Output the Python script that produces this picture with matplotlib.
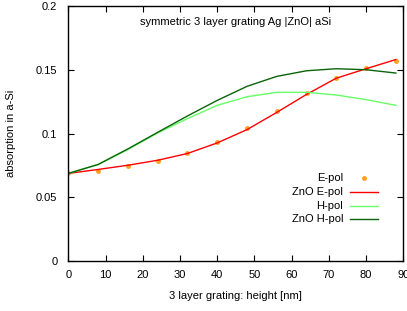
import matplotlib
matplotlib.use("Agg")
import matplotlib.pyplot as plt

plt.rcParams["font.family"] = ["Liberation Sans", "DejaVu Sans"]
plt.rcParams["font.size"] = 8

height_nm = [0, 8, 16, 24, 32, 40, 48, 56, 64, 72, 80, 88]
e_pol = [0.0688, 0.0708, 0.0747, 0.0786, 0.0846, 0.0932, 0.1047, 0.1177, 0.1317, 0.1434, 0.1510, 0.1565]
zno_e_pol = [0.0688, 0.0719, 0.0752, 0.0791, 0.0844, 0.0927, 0.1031, 0.1166, 0.1307, 0.1434, 0.1508, 0.1580]
h_pol = [0.0688, 0.0758, 0.0875, 0.1005, 0.1117, 0.1221, 0.1289, 0.1323, 0.1323, 0.1302, 0.1266, 0.1221]
zno_h_pol = [0.0688, 0.0758, 0.0880, 0.1010, 0.1138, 0.1260, 0.1370, 0.1448, 0.1492, 0.1508, 0.1500, 0.1474]

x_ticks = [0, 10, 20, 30, 40, 50, 60, 70, 80, 90]
y_ticks = [0, 0.05, 0.1, 0.15, 0.2]
y_tick_labels = ["0", "0.05", "0.1", "0.15", "0.2"]

fig = plt.figure(figsize=(4.07, 3.11), dpi=100)
ax = fig.add_axes([0.168, 0.160, 0.823, 0.821])

ax.plot(height_nm, e_pol, "o", color="#ffa020", markersize=2.5, label="E-pol")
ax.plot(height_nm, zno_e_pol, "-", color="#ff0000", linewidth=1.0, label="ZnO E-pol")
ax.plot(height_nm, h_pol, "-", color="#66ff66", linewidth=1.0, label="H-pol")
ax.plot(height_nm, zno_h_pol, "-", color="#0a640a", linewidth=1.0, label="ZnO H-pol")

ax.set_xlim(0, 90)
ax.set_ylim(0, 0.2)
ax.set_xticks(x_ticks)
ax.set_yticks(y_ticks)
ax.set_yticklabels(y_tick_labels)
ax.tick_params(direction="in", top=True, right=True, length=4, width=0.8, labelsize=8)
ax.tick_params(axis="y", pad=8)
ax.tick_params(axis="x", pad=6)
for sp in ax.spines.values():
    sp.set_linewidth(1.0)

ax.set_xlabel("3 layer grating: height [nm]", fontsize=8, labelpad=8)
ax.set_ylabel("absorption in a-Si", fontsize=8, labelpad=14)
ax.text(0.5, 0.937, "symmetric 3 layer grating Ag |ZnO| aSi", transform=ax.transAxes,
        ha="center", va="center", fontsize=8)

# gnuplot style key: right-aligned text, sample to the right
row_y = [0.325, 0.270, 0.218, 0.1645]
for line, yy in zip(ax.get_lines(), row_y):
    ax.text(0.820, yy, line.get_label(), transform=ax.transAxes, ha="right", va="center", fontsize=8)
    if line.get_linestyle() == "None":
        ax.plot([0.882], [yy], "o", color=line.get_color(), markersize=2.5,
                transform=ax.transAxes, clip_on=False)
    else:
        ax.plot([0.840, 0.924], [yy, yy], "-", color=line.get_color(),
                linewidth=line.get_linewidth(), transform=ax.transAxes)

fig.savefig("out.png", dpi=100)
